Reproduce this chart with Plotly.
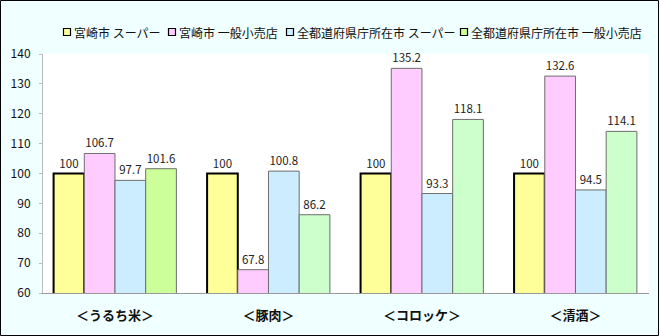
import plotly.graph_objects as go

categories = ["＜うるち米＞", "＜豚肉＞", "＜コロッケ＞", "＜清酒＞"]
series_names = ["宮崎市 スーパー", "宮崎市 一般小売店", "全都道府県庁所在市 スーパー", "全都道府県庁所在市 一般小売店"]
miyazaki_super = [100, 100, 100, 100]
miyazaki_retail = [106.7, 67.8, 135.2, 132.6]
all_super = [97.7, 100.8, 93.3, 94.5]
all_retail = [101.6, 86.2, 118.1, 114.1]
y_ticks = [60, 70, 80, 90, 100, 110, 120, 130, 140]

values = [miyazaki_super, miyazaki_retail, all_super, all_retail]
colors = ["#FFFF99", "#FFCCFF", "#CCECFF", ["#CCFF99", "#CCFFCC", "#CCFFCC", "#CCFFCC"]]
legend_colors = ["#FFFF99", "#FFCCFF", "#CCECFF", "#CCFF99"]
line_colors = ["#000000", "#6E6E6E", "#6E6E6E", "#6E6E6E"]
line_widths = [2, 1, 1, 1]

FONT = "Noto Sans CJK JP, Noto Sans, sans-serif"

W, H = 660, 336
ml, mr, mt, mb = 43, 11, 54, 43
pw, ph = W - ml - mr, H - mt - mb

def px_x(x):
    return (x - ml) / pw

def px_y(y):
    return (H - mb - y) / ph

fig = go.Figure()
for name, vals, c, lc, lw in zip(series_names, values, colors, line_colors, line_widths):
    fig.add_trace(go.Bar(
        x=categories, y=vals, name=name,
        marker=dict(color=c, line=dict(color=lc, width=lw)),
        text=[f"{v:g}" for v in vals], textposition="outside",
        textfont=dict(size=11.5, color="#222222", family=FONT),
        cliponaxis=False, showlegend=False,
    ))

# manual legend
legend_x = [67, 172, 290, 464]
legend_y = 32
shapes = []
annotations = []
for name, lx, c in zip(series_names, legend_x, legend_colors):
    shapes.append(dict(type="rect", xref="paper", yref="paper",
                       x0=px_x(lx - 3.5), x1=px_x(lx + 3.5),
                       y0=px_y(legend_y + 3.5), y1=px_y(legend_y - 3.5),
                       fillcolor=c, line=dict(color="#000000", width=1.2)))
    annotations.append(dict(xref="paper", yref="paper", x=px_x(lx + 5), y=px_y(legend_y),
                            xanchor="left", yanchor="middle", showarrow=False,
                            text=name, font=dict(size=12, family=FONT, color="#111111")))

shapes.append(dict(type="rect", xref="paper", yref="paper",
                   x0=px_x(0.5), x1=px_x(W - 1.5),
                   y0=px_y(H - 0.5), y1=px_y(0.5),
                   line=dict(color="#000000", width=1), layer="above"))

fig.update_layout(
    width=W, height=H,
    margin=dict(l=ml, r=mr, t=mt, b=mb),
    paper_bgcolor="#F0FFFF",
    plot_bgcolor="#FFFFFF",
    barmode="group", bargap=0.2, bargroupgap=0,
    font=dict(family=FONT, size=11, color="#111111"),
    showlegend=False,
    xaxis=dict(showline=True, linecolor="#999999", linewidth=1, ticks="",
               range=[-0.469, 3.479], ticklabelstandoff=10,
               tickfont=dict(size=13, family=FONT, color="#111111", weight="bold")),
    yaxis=dict(range=[60, 140], tickvals=y_ticks, showgrid=False, zeroline=False,
               showline=True, linecolor="#BBBBBB", linewidth=1,
               ticks="outside", ticklen=3, tickcolor="#BBBBBB", ticklabelstandoff=6,
               tickfont=dict(size=12, family=FONT, color="#111111")),
    shapes=shapes,
    annotations=annotations,
)

fig.write_html("out.html")
